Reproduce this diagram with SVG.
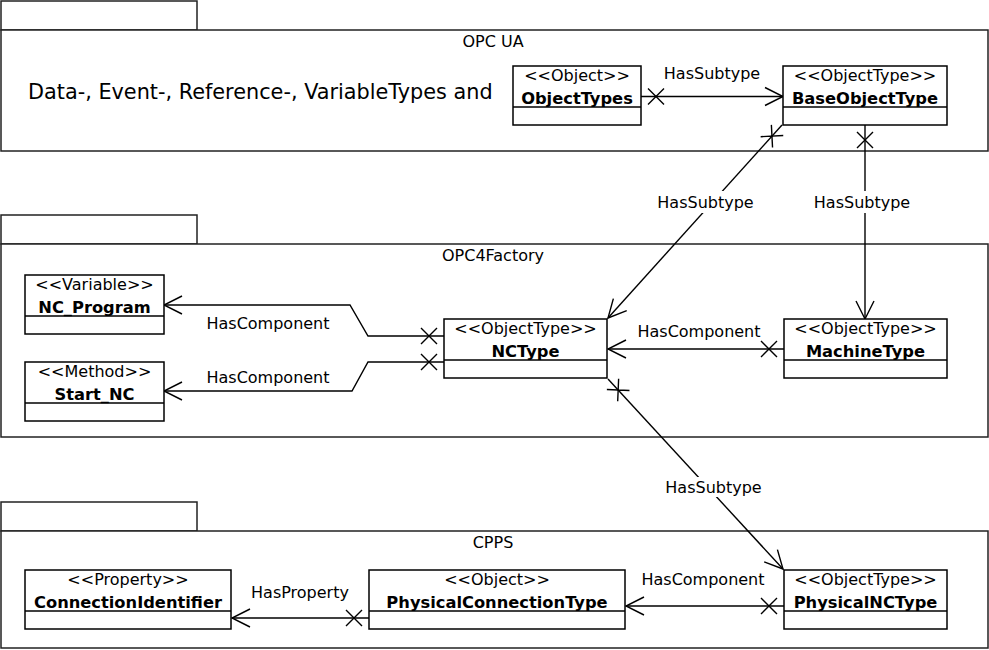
<svg xmlns="http://www.w3.org/2000/svg" width="989" height="650" viewBox="0 0 989 650">
<style>
  text { font-family: "DejaVu Sans", "Liberation Sans", sans-serif; font-size: 16px; fill: #000; }
  .c { text-anchor: middle; }
  .b { font-weight: bold; font-size: 16.3px; }
  .pkg { fill: #fff; stroke: #222; stroke-width: 1.5; }
  .node rect { fill: #fff; stroke: #000; stroke-width: 1.5; }
  .node line { stroke: #000; stroke-width: 1.5; }
  .con { fill: none; stroke: #000; stroke-width: 1.4; marker-start: url(#x); marker-end: url(#arr); }
  .lbg { fill: #fff; stroke: none; }
</style>
<defs>
  <marker id="arr" markerUnits="userSpaceOnUse" markerWidth="24" markerHeight="24" viewBox="-20 -12 24 24" refX="0" refY="0" orient="auto" overflow="visible">
    <path d="M-18,-9 L0,0 L-18,9" fill="none" stroke="#000" stroke-width="1.4"/>
  </marker>
  <marker id="x" markerUnits="userSpaceOnUse" markerWidth="30" markerHeight="30" viewBox="0 -15 30 30" refX="0" refY="0" orient="auto" overflow="visible">
    <path d="M7,-8 L23,8 M7,8 L23,-8" fill="none" stroke="#000" stroke-width="1.4"/>
  </marker>
</defs>
<rect width="989" height="650" fill="#fff"/>

<g id="pkg-opcua">
  <rect class="pkg" x="1" y="1" width="196" height="29"/>
  <rect class="pkg" x="1" y="30" width="987" height="121"/>
  <text class="c" x="493" y="47">OPC UA</text>
  <text x="28" y="99" style="font-size:20.8px">Data-, Event-, Reference-, VariableTypes and</text>
</g>
<g id="pkg-opc4factory">
  <rect class="pkg" x="1" y="215" width="196" height="29"/>
  <rect class="pkg" x="1" y="244" width="987" height="193"/>
  <text class="c" x="493" y="261">OPC4Factory</text>
</g>
<g id="pkg-cpps">
  <rect class="pkg" x="1" y="502" width="196" height="29"/>
  <rect class="pkg" x="1" y="531" width="987" height="117"/>
  <text class="c" x="493" y="548">CPPS</text>
</g>

<g id="connectors">
  <path class="con" d="M641,96.5 L783,96.5"/>
  <text class="c" x="712" y="79">HasSubtype</text>

  <path class="con" d="M782,125 L608,318"/>
  <path class="con" d="M865,125 L865,319"/>
  <path class="con" d="M784,349 L608,349"/>
  <text class="c" x="699" y="337">HasComponent</text>

  <path class="con" d="M444,336 L368,336 L350,305 L164,305"/>
  <text class="c" x="268" y="329">HasComponent</text>
  <path class="con" d="M444,362 L368,362 L352,391 L164,391"/>
  <text class="c" x="268" y="383">HasComponent</text>

  <path class="con" d="M608,379 L783,569"/>

  <path class="con" d="M784,606 L626,606"/>
  <text class="c" x="703" y="585">HasComponent</text>
  <path class="con" d="M369,618 L232,618"/>
  <text class="c" x="300" y="598">HasProperty</text>

  <rect class="lbg" x="656" y="191" width="99" height="22"/>
  <text class="c" x="705.5" y="208">HasSubtype</text>
  <rect class="lbg" x="812" y="191" width="100" height="22"/>
  <text class="c" x="862" y="208">HasSubtype</text>
  <rect class="lbg" x="664" y="477" width="99" height="20"/>
  <text class="c" x="713.5" y="493">HasSubtype</text>
</g>

<g id="node-objecttypes" class="node">
  <rect x="513" y="66" width="128" height="59"/>
  <line x1="513" y1="107" x2="641" y2="107"/>
  <text class="c" x="577" y="81">&lt;&lt;Object&gt;&gt;</text>
  <text class="c b" x="577" y="104">ObjectTypes</text>
</g>
<g id="node-baseobjecttype" class="node">
  <rect x="783" y="66" width="164" height="59"/>
  <line x1="783" y1="107" x2="947" y2="107"/>
  <text class="c" x="865" y="81">&lt;&lt;ObjectType&gt;&gt;</text>
  <text class="c b" x="865" y="104">BaseObjectType</text>
</g>
<g id="node-ncprogram" class="node">
  <rect x="25" y="275" width="139" height="59"/>
  <line x1="25" y1="316" x2="164" y2="316"/>
  <text class="c" x="94.5" y="290">&lt;&lt;Variable&gt;&gt;</text>
  <text class="c b" x="94.5" y="313">NC_Program</text>
</g>
<g id="node-startnc" class="node">
  <rect x="25" y="362" width="139" height="59"/>
  <line x1="25" y1="403" x2="164" y2="403"/>
  <text class="c" x="94.5" y="377">&lt;&lt;Method&gt;&gt;</text>
  <text class="c b" x="94.5" y="400">Start_NC</text>
</g>
<g id="node-nctype" class="node">
  <rect x="444" y="319" width="163" height="59"/>
  <line x1="444" y1="360" x2="607" y2="360"/>
  <text class="c" x="525.5" y="334">&lt;&lt;ObjectType&gt;&gt;</text>
  <text class="c b" x="525.5" y="357">NCType</text>
</g>
<g id="node-machinetype" class="node">
  <rect x="784" y="319" width="163" height="59"/>
  <line x1="784" y1="360" x2="947" y2="360"/>
  <text class="c" x="865.5" y="334">&lt;&lt;ObjectType&gt;&gt;</text>
  <text class="c b" x="865.5" y="357">MachineType</text>
</g>
<g id="node-connectionidentifier" class="node">
  <rect x="25" y="570" width="206" height="59"/>
  <line x1="25" y1="611" x2="231" y2="611"/>
  <text class="c" x="128" y="585">&lt;&lt;Property&gt;&gt;</text>
  <text class="c b" x="128" y="608">ConnectionIdentifier</text>
</g>
<g id="node-physicalconnectiontype" class="node">
  <rect x="369" y="570" width="256" height="59"/>
  <line x1="369" y1="611" x2="625" y2="611"/>
  <text class="c" x="497" y="585">&lt;&lt;Object&gt;&gt;</text>
  <text class="c b" x="497" y="608">PhysicalConnectionType</text>
</g>
<g id="node-physicalnctype" class="node">
  <rect x="784" y="570" width="163" height="59"/>
  <line x1="784" y1="611" x2="947" y2="611"/>
  <text class="c" x="865.5" y="585">&lt;&lt;ObjectType&gt;&gt;</text>
  <text class="c b" x="865.5" y="608">PhysicalNCType</text>
</g>
</svg>
